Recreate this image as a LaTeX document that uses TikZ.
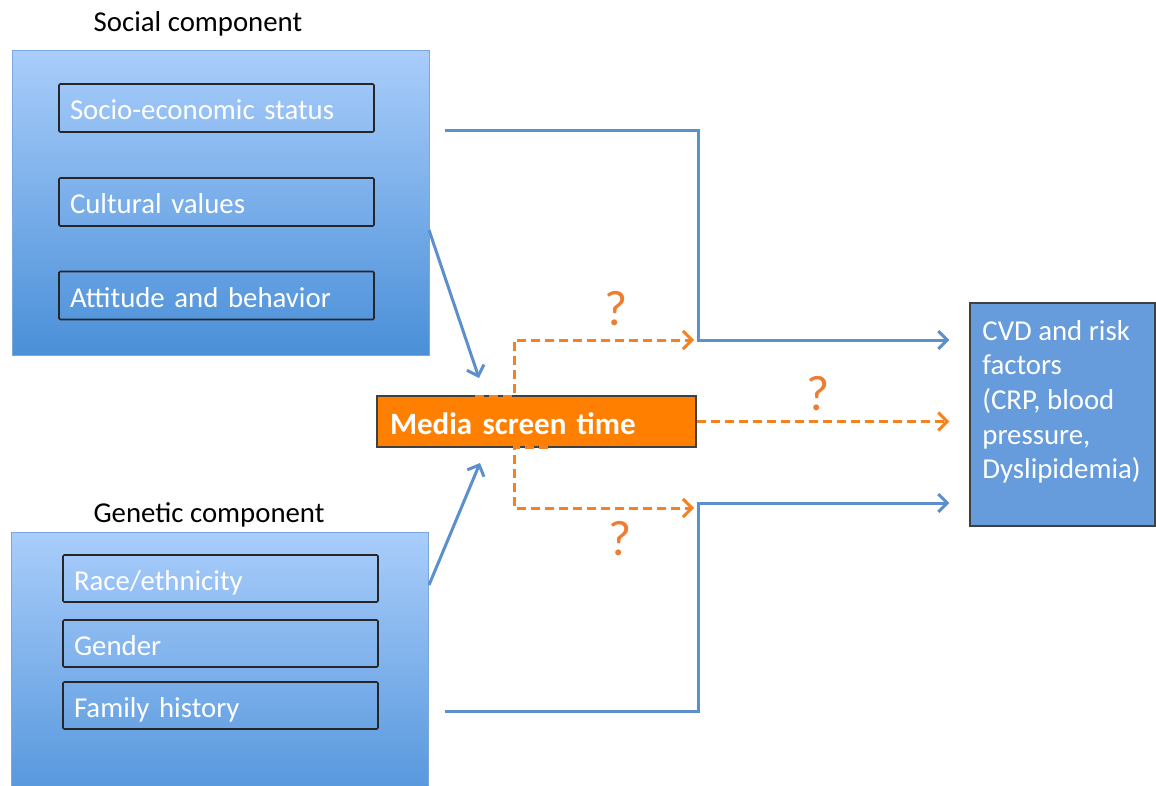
\documentclass[tikz,border=0pt]{standalone}
\usepackage{fontspec}
\setmainfont{Carlito}
\usetikzlibrary{arrows.meta,calc}
\definecolor{gtop}{HTML}{A9CDFB}
\definecolor{gbot}{HTML}{4A8FD8}
\definecolor{bframe}{HTML}{7AA7DC}
\definecolor{bline}{HTML}{5B90CC}
\definecolor{oline}{HTML}{F5821F}
\definecolor{qmark}{HTML}{EE7D31}
\definecolor{mediafill}{HTML}{FF7F00}
\definecolor{cvdfill}{HTML}{669CDC}
\tikzset{
  bigbox/.style={draw=bframe, line width=0.5pt, top color=gtop, bottom color=gbot, minimum width=208.5pt, inner sep=0pt},
  itembox/.style={draw=black!85, line width=0.8pt, rounded corners=0.6pt, text=white,
    font=\fontsize{14.4}{17}\selectfont, text width=146.5pt, inner xsep=5.5pt, align=left,
    minimum height=24pt, inner ysep=0pt, text height=14pt, text depth=2pt},
  title/.style={font=\fontsize{14.4}{17}\selectfont, text=black},
  blueline/.style={draw=bline, line width=1.5pt},
  bluearrow/.style={blueline, -{Straight Barb[length=4.5pt,width=9pt,line width=1.5pt]}},
  orangearrow/.style={draw=oline, line width=1.5pt, dash pattern=on 4.5pt off 2.5pt,
    -{Straight Barb[length=4.5pt,width=9pt,line width=1.5pt]}},
  qlabel/.style={text=qmark, font=\fontsize{25}{28}\selectfont, anchor=base, inner sep=0pt},
}
\begin{document}
\begin{tikzpicture}[x=0.5pt,y=-0.5pt]
\useasboundingbox (0,0) rectangle (1156,786);
\clip (0,0) rectangle (1156,786);

% titles
\node[title] (tsocial) at (198,24) {Social component};
\node[title] (tgen) at (209,515) {Genetic component};

% social component
\node[bigbox, minimum height=152pt] (social) at (220.5,203) {};
\node[itembox] (ses) at (216.5,108) {Socio-economic status};
\node[itembox] (cult) at (216.5,202) {Cultural values};
\node[itembox] (att) at (216.5,295.5) {Attitude and behavior};

% genetic component (cut at the bottom)
\node[bigbox, minimum height=150pt] (genetic) at (219.5,682) {};
\node[itembox, minimum height=23.5pt] (race) at (220.5,578.5) {Race/ethnicity};
\node[itembox, minimum height=23.5pt] (gender) at (220.5,643.5) {Gender};
\node[itembox, minimum height=23.5pt] (fam) at (220.5,705.5) {Family history};

% media
\node[draw=black!75, line width=0.6pt, fill=mediafill, text=white,
  font=\fontsize{15.5}{18}\selectfont\bfseries, minimum width=159.5pt, minimum height=25.5pt,
  text width=146.5pt, inner xsep=6.5pt, inner ysep=0pt, align=left,
  text height=15pt, text depth=2pt] (media) at (536.5,421.5) {Media screen time};

% CVD
\node[draw=black!75, line width=0.6pt, fill=cvdfill, minimum width=92.5pt, minimum height=111.5pt, inner sep=0pt] (cvd) at (1062.5,414.5) {};
\node[anchor=north west, inner sep=0pt, align=left, text=white, font=\fontsize{14.4}{17.3}\selectfont] (cvdtext) at (982,320)
  {CVD and risk\\factors\\(CRP, blood\\pressure,\\Dyslipidemia)};

% coordinates
\coordinate (s1) at (429,230);
\coordinate (m1) at (479,378);
\coordinate (g1) at (429,585);
\coordinate (m2) at (480,463);
\coordinate (topstart) at (445,131);
\coordinate (topjoin) at (698,340);
\coordinate (botstart) at (445,711);
\coordinate (botjoin) at (698,503);
\coordinate (otop) at (475,396);
\coordinate (otopk) at (514,396);
\coordinate (otopc) at (514,340);
\coordinate (obot) at (548,447);
\coordinate (obotk) at (514,447);
\coordinate (obotc) at (514,508);

% blue arrows into media
\draw[bluearrow] (s1) -- (m1);
\draw[bluearrow] (g1) -- (m2);

% blue elbow lines into CVD
\draw[bluearrow, shorten >=10pt] (topstart) -| (topjoin) -- (cvd.west |- topjoin);
\draw[bluearrow, shorten >=10pt] (botstart) -| (botjoin) -- (cvd.west |- botjoin);

% orange dashed
\draw[orangearrow] (otop) -- (otopk) -- (otopc) -- (694,340);
\draw[orangearrow] (obot) -- (obotk) -- (obotc) -- (694,508);
\draw[orangearrow, shorten >=10pt] (media.east) -- (cvd.west |- media.east);

% question marks
\node[qlabel] (q1) at (616,325) {?};
\node[qlabel] (q2) at (818,410) {?};
\node[qlabel] (q3) at (620,555) {?};
\end{tikzpicture}
\end{document}
